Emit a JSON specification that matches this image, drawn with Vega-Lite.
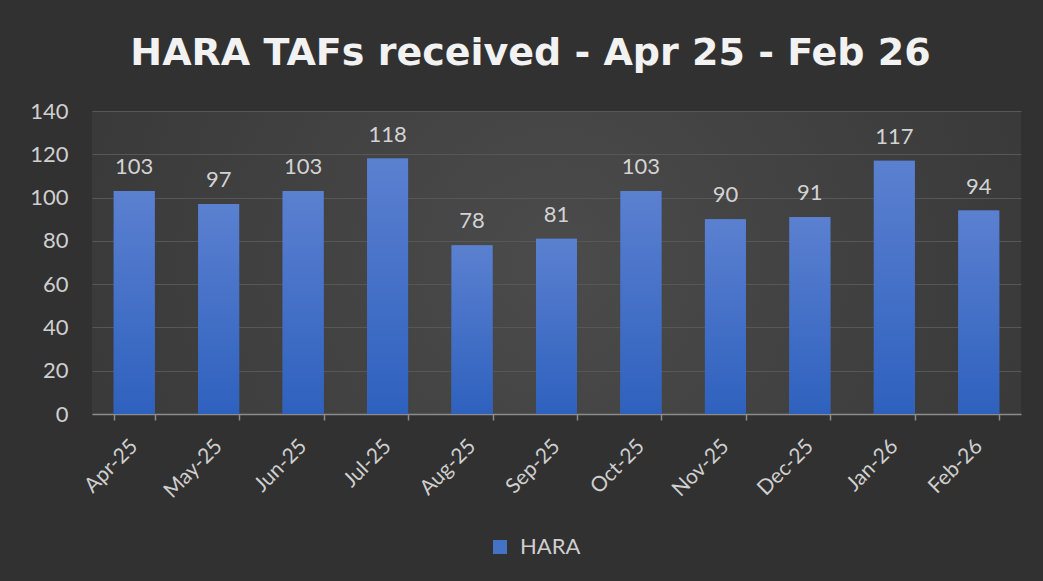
{
  "$schema": "https://vega.github.io/schema/vega-lite/v6.json",
  "autosize": {"type": "none"},
  "width": 929,
  "height": 303,
  "padding": {"left": 92, "top": 111, "right": 22, "bottom": 167},
  "background": "#313131",
  "title": {
    "text": "HARA TAFs received - Apr 25 - Feb 26",
    "font": "DejaVu Sans",
    "fontSize": 38,
    "fontWeight": "bold",
    "color": "#f2f2f2",
    "anchor": "middle",
    "frame": "group",
    "dx": -26,
    "baseline": "alphabetic",
    "offset": -3
  },
  "data": {
    "values": [
      {"month": "Apr-25", "count": 103, "series": "HARA"},
      {"month": "May-25", "count": 97, "series": "HARA"},
      {"month": "Jun-25", "count": 103, "series": "HARA"},
      {"month": "Jul-25", "count": 118, "series": "HARA"},
      {"month": "Aug-25", "count": 78, "series": "HARA"},
      {"month": "Sep-25", "count": 81, "series": "HARA"},
      {"month": "Oct-25", "count": 103, "series": "HARA"},
      {"month": "Nov-25", "count": 90, "series": "HARA"},
      {"month": "Dec-25", "count": 91, "series": "HARA"},
      {"month": "Jan-26", "count": 117, "series": "HARA"},
      {"month": "Feb-26", "count": 94, "series": "HARA"}
    ]
  },
  "encoding": {
    "x": {
      "field": "month",
      "type": "nominal",
      "sort": null,
      "scale": {"paddingInner": 0.515, "paddingOuter": 0.2575},
      "axis": {
        "title": null,
        "labelAngle": -45,
        "labelAlign": "right",
        "labelBaseline": "middle",
        "labelOffset": 0,
        "labelPadding": 23,
        "labelFont": "Lato",
        "labelFontSize": 21,
        "labelColor": "#cfcfcf",
        "domainColor": "#8c8c8c",
        "domainWidth": 1.5,
        "tickColor": "#8c8c8c",
        "tickWidth": 1.5,
        "tickSize": 6,
        "tickBand": "extent",
        "grid": false
      }
    },
    "y": {
      "field": "count",
      "type": "quantitative",
      "scale": {"domain": [0, 140]},
      "axis": {
        "title": null,
        "values": [0, 20, 40, 60, 80, 100, 120, 140],
        "domain": false,
        "ticks": false,
        "labelPadding": 24,
        "labelFont": "Lato",
        "labelFontSize": 22,
        "labelColor": "#cfcfcf",
        "gridColor": "#575757",
        "gridWidth": 1.2
      }
    }
  },
  "layer": [
    {
      "mark": {"type": "bar"},
      "encoding": {
        "color": {
          "field": "series",
          "type": "nominal",
          "scale": {"range": ["#4472c4"]},
          "legend": {
            "title": null,
            "orient": "none",
            "legendX": 397,
            "legendY": 425,
            "symbolType": "square",
            "symbolSize": 196,
            "symbolStrokeWidth": 0,
            "labelFont": "Lato",
            "labelFontSize": 22,
            "labelColor": "#cfcfcf",
            "labelOffset": 9
          }
        }
      }
    },
    {
      "mark": {
        "type": "bar",
        "color": {
          "gradient": "linear",
          "x1": 0, "y1": 0, "x2": 0, "y2": 1,
          "stops": [
            {"offset": 0, "color": "#5b80d0"},
            {"offset": 1, "color": "#2e61be"}
          ]
        }
      }
    },
    {
      "mark": {
        "type": "text",
        "baseline": "bottom",
        "dy": -12,
        "font": "Lato",
        "fontSize": 22,
        "color": "#d3d3d3"
      },
      "encoding": {
        "text": {"field": "count", "type": "quantitative"}
      }
    }
  ],
  "config": {
    "view": {
      "stroke": null,
      "fill": {
        "gradient": "radial",
        "x1": 0.5, "y1": 0.5, "r1": 0,
        "x2": 0.5, "y2": 0.5, "r2": 0.75,
        "stops": [
          {"offset": 0, "color": "#4b4b4b"},
          {"offset": 1, "color": "#323232"}
        ]
      }
    }
  }
}
